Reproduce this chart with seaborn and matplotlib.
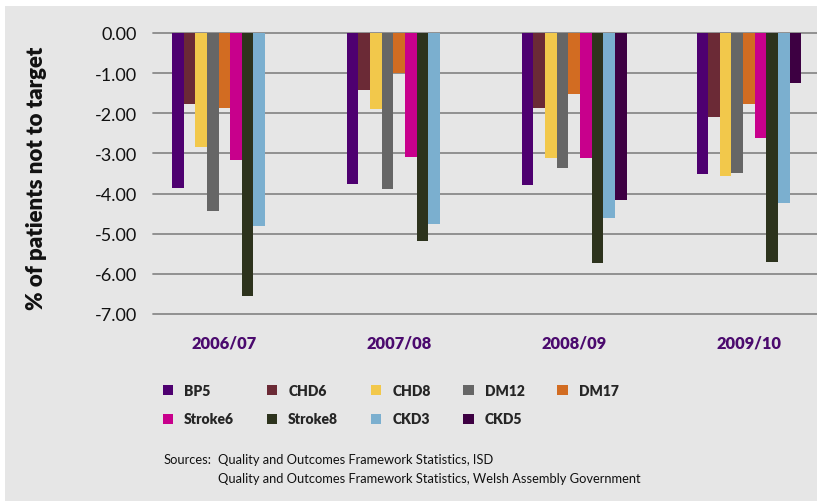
import matplotlib
matplotlib.use("Agg")
import matplotlib.pyplot as plt
import matplotlib.patches as mpatches
import numpy as np
import pandas as pd
import seaborn as sns

# Financial years on the category axis
years = ["2006/07", "2007/08", "2008/09", "2009/10"]

# Indicators (hue levels)
indicators = ["BP5", "CHD6", "CHD8", "DM12", "DM17",
              "Stroke6", "Stroke8", "CKD3", "CKD5"]

# % of patients not to target, per indicator, one value per year
bp5 = [-3.86, -3.76, -3.78, -3.51]
chd6 = [-1.77, -1.42, -1.87, -2.09]
chd8 = [-2.84, -1.89, -3.11, -3.56]
dm12 = [-4.43, -3.88, -3.36, -3.49]
dm17 = [-1.87, -1.00, -1.52, -1.77]
stroke6 = [-3.16, -3.09, -3.11, -2.61]
stroke8 = [-6.55, -5.18, -5.73, -5.70]
ckd3 = [-4.80, -4.76, -4.61, -4.23]
ckd5 = [np.nan, np.nan, -4.16, -1.24]

colours = ["#4E0070", "#6B2A36", "#F2C84B", "#666666", "#D26C22",
           "#C8008C", "#2D331D", "#7BAFCF", "#3D0042"]

series = [bp5, chd6, chd8, dm12, dm17, stroke6, stroke8, ckd3, ckd5]
rows = []
for name, vals in zip(indicators, series):
    for yr, v in zip(years, vals):
        rows.append({"Year": yr, "Indicator": name, "Value": v})
df = pd.DataFrame(rows)

sns.set_theme(style="white")
plt.rcParams["font.family"] = ["Lato", "DejaVu Sans"]

W, H = 817, 502
fig = plt.figure(figsize=(W / 100, H / 100), dpi=100)
fig.patch.set_facecolor("white")
# grey panel behind the whole chart
fig.patches.append(mpatches.Rectangle((5 / W, 0), 1, (H - 7) / H,
                                      transform=fig.transFigure,
                                      facecolor="#E6E6E6", edgecolor="none",
                                      zorder=-10))

left, right, top, bottom = 153, 817, 34, 315
ax = fig.add_axes([left / W, 1 - bottom / H, (right - left) / W, (bottom - top) / H])
ax.set_facecolor("none")

sns.barplot(data=df, x="Year", y="Value", hue="Indicator",
            hue_order=indicators, palette=colours, width=0.6,
            saturation=1, ax=ax, legend=True, zorder=3,
            linewidth=0, edgecolor="none")

ax.set_ylim(-7, 0)
ax.set_xlim(-0.408, 3.389)
ax.set_yticks(np.arange(0, -7.01, -1))
ax.set_yticklabels([f"{v:.2f}" for v in np.arange(0, -7.01, -1)])
for y in np.arange(0, -7.01, -1):
    ax.axhline(y, color="#8A8A8A", lw=1.3, zorder=1, clip_on=False)

for s in ax.spines.values():
    s.set_visible(False)
ax.tick_params(axis="y", length=0, pad=11.5, labelsize=13, labelcolor="#111111")
ax.tick_params(axis="x", length=0, pad=15, labelsize=11.8)
for lbl in ax.get_xticklabels():
    lbl.set_fontweight("heavy")
    lbl.set_color("#4B0A6E")
ax.set_xlabel("")
ax.set_ylabel("% of patients not to target", fontsize=16, fontweight="heavy",
              color="#111111")
ax.yaxis.set_label_coords(-(153 - 47) / (right - left), 0.485)

# legend: five columns, two rows, filled column by column
handles, labels = ax.get_legend_handles_labels()
ax.get_legend().remove()
order = [0, 5, 1, 6, 2, 7, 3, 8, 4]
leg = fig.legend([handles[i] for i in order], [labels[i] for i in order],
                 ncol=5, loc="upper left",
                 bbox_to_anchor=(150 / W, 1 - 372 / H),
                 frameon=False, handlelength=0.75, handleheight=0.75,
                 handletextpad=0.8, columnspacing=2.35, labelspacing=1.15,
                 prop={"family": ["Lato", "DejaVu Sans"], "weight": "heavy",
                       "size": 10})

fs = 9.3
fig.text(164 / W, 1 - 460 / H, "Sources:", fontsize=fs, va="center",
         color="#111111")
fig.text(218 / W, 1 - 460 / H,
         "Quality and Outcomes Framework Statistics, ISD",
         fontsize=fs, va="center", color="#111111")
fig.text(218 / W, 1 - 479 / H,
         "Quality and Outcomes Framework Statistics, Welsh Assembly Government",
         fontsize=fs, va="center", color="#111111")

fig.savefig("out.png", dpi=100)
